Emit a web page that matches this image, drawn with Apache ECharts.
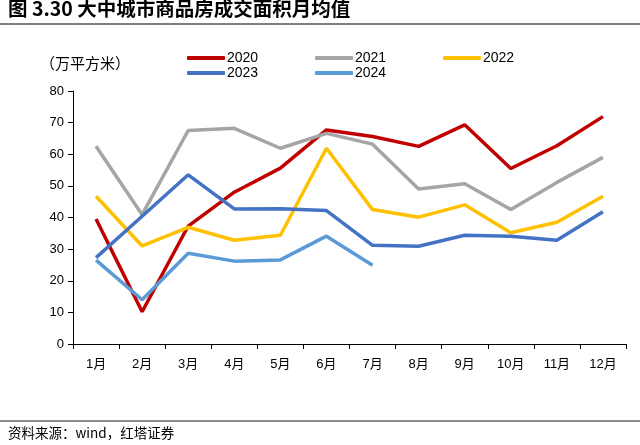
<!DOCTYPE html>
<html><head><meta charset="utf-8">
<script src="https://cdn.jsdelivr.net/npm/echarts@6/dist/echarts.min.js"></script>
<style>html,body{margin:0;padding:0;background:#fff}#c{width:640px;height:445px}</style>
</head><body><div id="c"></div>
<script>
const months = ['1月','2月','3月','4月','5月','6月','7月','8月','9月','10月','11月','12月'];
const s2020 = [39.5, 10.2, 37.3, 48.0, 55.6, 67.7, 65.6, 62.5, 69.3, 55.5, 62.7, 71.9];
const s2021 = [62.5, 40.9, 67.5, 68.2, 61.9, 66.6, 63.2, 49.0, 50.7, 42.5, 51.1, 59.0];
const s2022 = [46.7, 31.0, 36.9, 32.8, 34.4, 61.9, 42.5, 40.1, 44.0, 35.2, 38.5, 46.7];
const s2023 = [27.3, 40.4, 53.5, 42.7, 42.8, 42.2, 31.2, 30.9, 34.4, 34.1, 32.8, 41.8];
const s2024 = [26.5, 14.0, 28.7, 26.2, 26.6, 34.1, 24.9];
const names = ['2020','2021','2022','2023','2024'];
const colors = ['#C00000','#A5A5A5','#FFC000','#4472C4','#5B9BD5'];
const dataArr = [s2020, s2021, s2022, s2023, s2024];
const legendPos = [[187,51],[315,51],[443,51],[187,66],[315,66]];

const chart = echarts.init(document.getElementById('c'));
const font = '"Liberation Sans","Noto Sans CJK SC",sans-serif';
chart.setOption({
  animation: false,
  backgroundColor: '#fff',
  textStyle: {fontFamily: font},
  grid: {left: 73, right: 14, top: 91, bottom: 101},
  legend: names.map((n, i) => ({
    data: [n], left: legendPos[i][0], top: legendPos[i][1],
    icon: 'roundRect', itemWidth: 38, itemHeight: 4, itemGap: 0,
    padding: 0,
    textStyle: {fontSize: 14, color: '#000', fontFamily: font, padding: [0,0,0,-3]}
  })),
  xAxis: {
    type: 'category', data: months, boundaryGap: true,
    axisLine: {lineStyle: {color: '#000', width: 1}},
    axisTick: {show: true, length: 5, lineStyle: {color: '#000'}},
    axisLabel: {color: '#000', fontSize: 13, margin: 14, fontFamily: font}
  },
  yAxis: {
    type: 'value', min: 0, max: 80, interval: 10,
    axisLine: {show: true, lineStyle: {color: '#000', width: 1}},
    axisTick: {show: true, length: 5, lineStyle: {color: '#000'}},
    splitLine: {show: false},
    axisLabel: {color: '#000', fontSize: 13, margin: 9, fontFamily: font}
  },
  series: names.map((n, i) => ({
    name: n, type: 'line', data: dataArr[i], symbol: 'none',
    lineStyle: {color: colors[i], width: 3.5}, itemStyle: {color: colors[i]}
  })),
  graphic: [
    {type: 'text', left: 8, top: -1, style: {text: '图 3.30 大中城市商品房成交面积月均值', font: 'bold 19.5px "Noto Sans CJK SC", sans-serif', fill: '#000'}},
    {type: 'line', shape: {x1: 0, y1: 24, x2: 640, y2: 24}, style: {stroke: '#555', lineWidth: 1.5}},
    {type: 'text', left: 40, top: 56, style: {text: '（万平方米）', font: '15px "Noto Sans CJK SC", sans-serif', fill: '#000'}},
    {type: 'line', shape: {x1: 0, y1: 421, x2: 640, y2: 421}, style: {stroke: '#666', lineWidth: 1.5}},
    {type: 'text', left: 8, top: 426, style: {text: '资料来源：wind，红塔证券', font: '13.5px "Noto Sans CJK SC", sans-serif', fill: '#000'}}
  ]
});
</script></body></html>
